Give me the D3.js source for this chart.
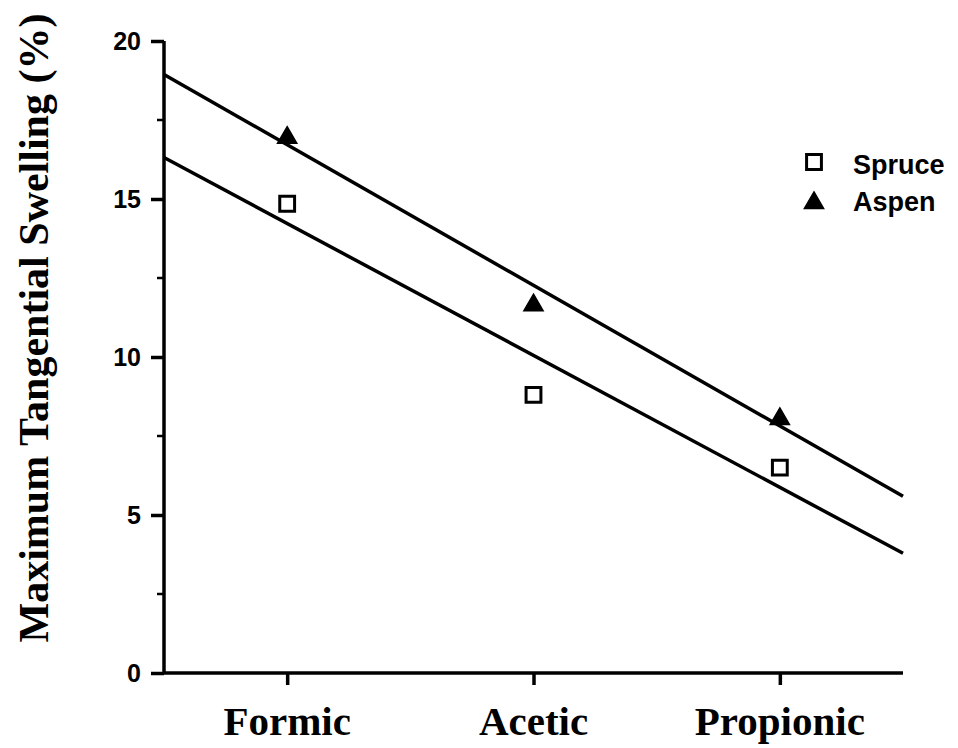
<!DOCTYPE html>
<html>
<head>
<meta charset="utf-8">
<script src="https://cdn.jsdelivr.net/npm/d3@7"></script>
<style>
  body { margin: 0; background: #fff; }
  .tick text { font-family: "Liberation Sans", Arial, sans-serif; font-weight: bold; }
</style>
</head>
<body>
<div id="chart"></div>
<script>
// acid treatments along the x axis
const ACIDS = ["Formic", "Acetic", "Propionic"];
// maximum tangential swelling (%)
const SPRUCE = [14.85, 8.8, 6.5];
const ASPEN = [17.0, 11.7, 8.1];
const Y_TICKS = [0, 5, 10, 15, 20];
const Y_MINOR = [2.5, 7.5, 12.5, 17.5];

const width = 958;
const height = 748;

const svg = d3.select("#chart").append("svg")
    .attr("width", width)
    .attr("height", height);

// categories sit at 1,2,3 with half a step of room either side
const x = d3.scaleLinear().domain([0.5, 3.5]).range([164, 903]);
const y = d3.scaleLinear().domain([0, 20]).range([673, 41]);

// least squares line through each species' points
function fit(vals) {
  const xs = vals.map((v, i) => i + 1);
  const mx = d3.mean(xs), my = d3.mean(vals);
  const b = d3.sum(xs, (xi, i) => (xi - mx) * (vals[i] - my)) / d3.sum(xs, xi => (xi - mx) * (xi - mx));
  const a = my - b * mx;
  return x.domain().map(d => [d, a + b * d]);
}

const line = d3.line().x(d => x(d[0])).y(d => y(d[1]));

[ASPEN, SPRUCE].forEach(vals => {
  svg.append("path")
      .datum(fit(vals))
      .attr("d", line)
      .attr("fill", "none")
      .attr("stroke", "#000")
      .attr("stroke-width", 3.5);
});

// y axis
const yAxis = svg.append("g")
    .attr("transform", "translate(" + x(0.5) + ",0)")
    .call(d3.axisLeft(y).tickValues(Y_TICKS).tickSize(13).tickPadding(10));
yAxis.select(".domain").attr("stroke-width", 3.5).attr("d", "M0," + y(20) + "V" + y(0));
yAxis.selectAll(".tick line").attr("stroke-width", 3.5);
yAxis.selectAll(".tick text").style("font-size", "25px");

svg.append("g")
    .attr("transform", "translate(" + x(0.5) + ",0)")
    .selectAll("line")
    .data(Y_MINOR)
    .enter().append("line")
    .attr("x1", -7).attr("x2", 0)
    .attr("y1", d => y(d)).attr("y2", d => y(d))
    .attr("stroke", "#000")
    .attr("stroke-width", 2.5);

// x axis
const xAxis = svg.append("g")
    .attr("transform", "translate(0," + y(0) + ")")
    .call(d3.axisBottom(x).tickValues([1, 2, 3]).tickSize(12).tickFormat(""));
xAxis.select(".domain").attr("stroke-width", 3.5).attr("d", "M" + x(0.5) + ",0H" + x(3.5));
xAxis.selectAll(".tick line").attr("stroke-width", 3.5);

svg.selectAll("text.acid")
    .data(ACIDS)
    .enter().append("text")
    .attr("class", "acid")
    .attr("x", (d, i) => x(i + 1))
    .attr("y", 735)
    .attr("text-anchor", "middle")
    .style("font-family", "'Liberation Serif', 'Times New Roman', serif")
    .style("font-weight", "bold")
    .style("font-size", "41px")
    .text(d => d);

// y axis title
svg.append("text")
    .attr("transform", "translate(48," + 328 + ") rotate(-90)")
    .attr("text-anchor", "middle")
    .style("font-family", "'Liberation Serif', 'Times New Roman', serif")
    .style("font-weight", "bold")
    .style("font-size", "42px")
    .text("Maximum Tangential Swelling (%)");

// data points
const sq = d3.symbol().type(d3.symbolSquare).size(220);
const tri = d3.symbol().type(d3.symbolTriangle).size(160);

svg.selectAll("path.spruce")
    .data(SPRUCE)
    .enter().append("path")
    .attr("class", "spruce")
    .attr("transform", (d, i) => "translate(" + x(i + 1) + "," + y(d) + ")")
    .attr("d", sq)
    .attr("fill", "#fff")
    .attr("stroke", "#000")
    .attr("stroke-width", 3);

svg.selectAll("path.aspen")
    .data(ASPEN)
    .enter().append("path")
    .attr("class", "aspen")
    .attr("transform", (d, i) => "translate(" + x(i + 1) + "," + (y(d) + 2) + ")")
    .attr("d", tri)
    .attr("fill", "#000")
    .attr("stroke", "#000")
    .attr("stroke-width", 1.5);

// legend
const legend = svg.append("g").attr("transform", "translate(814,0)");
legend.append("path")
    .attr("transform", "translate(0,162)")
    .attr("d", sq)
    .attr("fill", "#fff")
    .attr("stroke", "#000")
    .attr("stroke-width", 3);
legend.append("path")
    .attr("transform", "translate(0,203)")
    .attr("d", tri)
    .attr("fill", "#000")
    .attr("stroke", "#000")
    .attr("stroke-width", 1.5);

legend.selectAll("text")
    .data(["Spruce", "Aspen"])
    .enter().append("text")
    .attr("x", 39)
    .attr("y", (d, i) => 174 + i * 37)
    .style("font-family", "'Liberation Sans', Arial, sans-serif")
    .style("font-weight", "bold")
    .style("font-size", "27px")
    .text(d => d);
</script>
</body>
</html>
